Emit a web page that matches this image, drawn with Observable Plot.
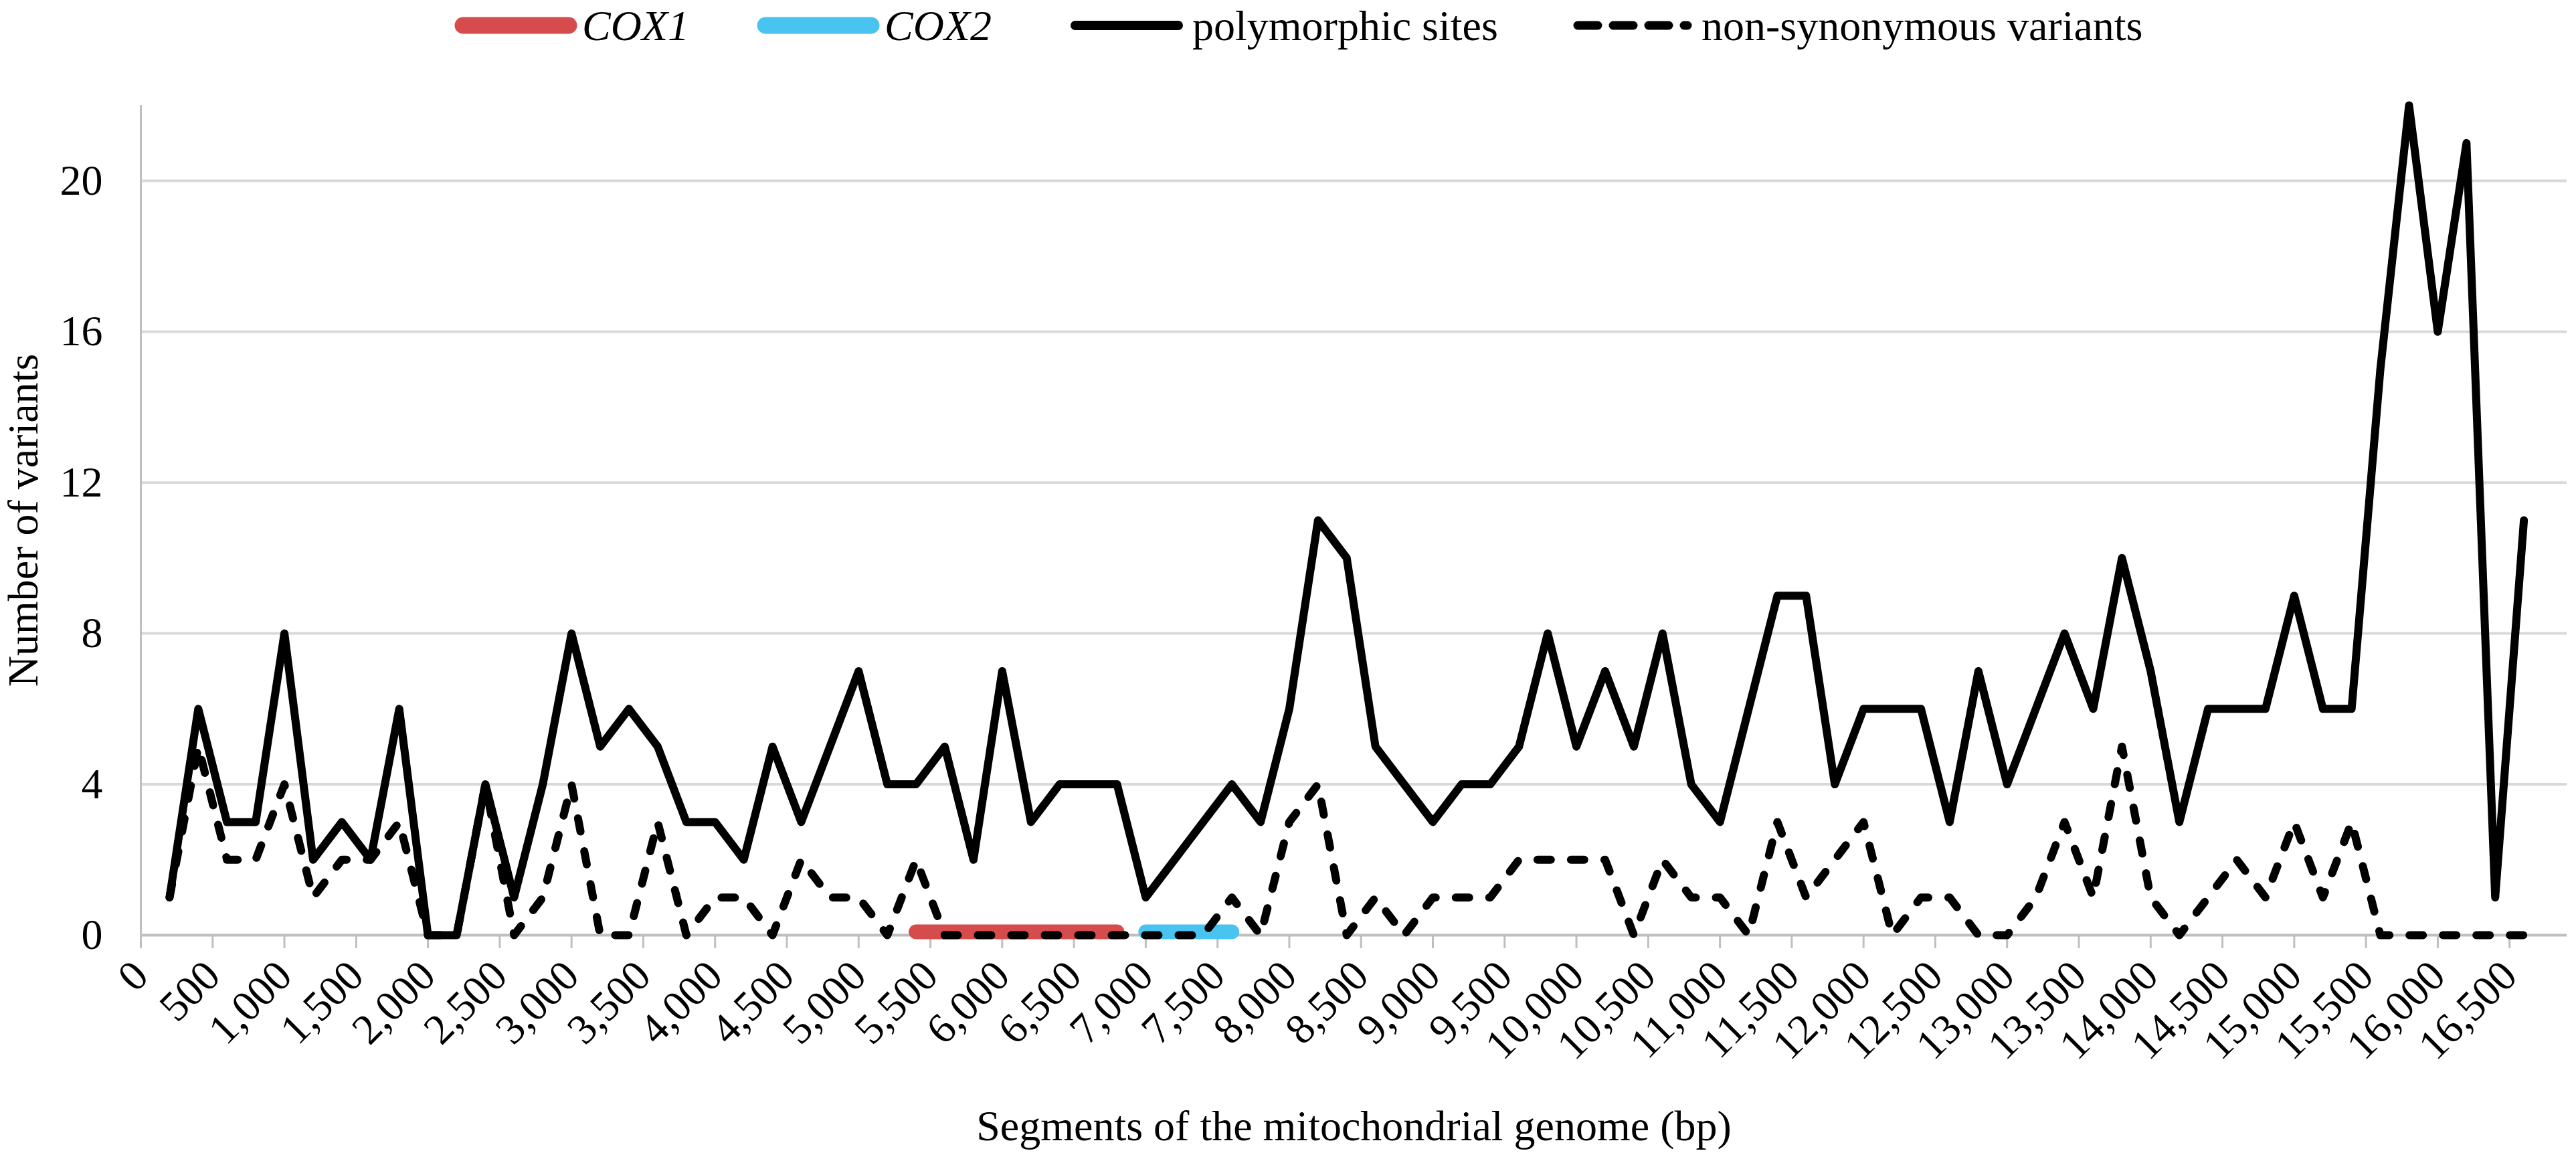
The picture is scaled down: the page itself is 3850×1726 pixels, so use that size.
<!DOCTYPE html>
<html>
<head>
<meta charset="utf-8">
<script src="https://cdn.jsdelivr.net/npm/d3@7"></script>
<script src="https://cdn.jsdelivr.net/npm/@observablehq/plot@0.6"></script>
<style>
html, body { margin: 0; padding: 0; background: #fff; }
#wrap { width: 3850px; height: 1726px; position: relative; overflow: hidden; background: #fff; }
#legend { position: absolute; left: 0; top: 0; }
#chart { position: absolute; left: 0; top: 100px; }
</style>
</head>
<body>
<div id="wrap">
  <svg id="legend" width="3850" height="100"></svg>
  <div id="chart"></div>
</div>
<script>
// ---- data ----
const segmentPositions = [200,400,600,800,1000,1200,1400,1600,1800,2000,2200,2400,2600,2800,3000,3200,3400,3600,3800,4000,4200,4400,4600,4800,5000,5200,5400,5600,5800,6000,6200,6400,6600,6800,7000,7200,7400,7600,7800,8000,8200,8400,8600,8800,9000,9200,9400,9600,9800,10000,10200,10400,10600,10800,11000,11200,11400,11600,11800,12000,12200,12400,12600,12800,13000,13200,13400,13600,13800,14000,14200,14400,14600,14800,15000,15200,15400,15600,15800,16000,16200,16400,16600];
const polymorphicSites = [1,6,3,3,8,2,3,2,6,0,0,4,1,
  4,8,5,6,5,3,3,2,5,3,5,7,4,4,
  5,2,7,3,4,4,4,1,2,3,4,3,6,11,10,5,4,3,
  4,4,5,8,5,7,5,8,4,3,6,9,9,
  4,6,6,6,3,7,4,6,8,
  6,10,7,3,6,6,6,9,6,6,15,22,16,21,1,11];
const nonSynonymousVariants = [1,5,2,2,4,1,2,2,3,0,0,4,0,
  1,4,0,0,3,0,1,1,0,2,1,1,0,2,
  0,0,0,0,0,0,0,0,0,0,1,0,3,4,0,1,0,1,
  1,1,2,2,2,2,0,2,1,1,0,3,1,
  2,3,0,1,1,0,0,1,3,
  1,5,1,0,1,2,1,3,1,3,0,0,0,0,0,0];
const cox1Span = [5400, 6800];
const cox2Span = [7000, 7600];
const xTicks = [0,500,1000,1500,2000,2500,3000,3500,4000,4500,5000,5500,6000,6500,7000,7500,8000,8500,9000,9500,10000,10500,11000,11500,12000,12500,13000,13500,14000,14500,15000,15500,16000,16500];
const yTicks = [0,4,8,12,16,20];
const seriesNames = ["COX1", "COX2", "polymorphic sites", "non-synonymous variants"];
const xTitle = "Segments of the mitochondrial genome (bp)";
const yTitle = "Number of variants";

// ---- styles ----
const FONT = "'Liberation Serif', 'Times New Roman', serif";
const RED = "#d64b4b", BLUE = "#49c3ef";
const GRID = "#d9d9d9", AXIS = "#bfbfbf";

const rows = segmentPositions.map((p, i) => ({pos: p, poly: polymorphicSites[i], nonsyn: nonSynonymousVariants[i]}));
const cox1Rows = cox1Span.map(p => ({pos: p, v: 0}));
const cox2Rows = cox2Span.map(p => ({pos: p, v: 0}));

const chart = Plot.plot({
  width: 3850,
  height: 1626,
  marginTop: 57,
  marginBottom: 329,
  marginLeft: 210,
  marginRight: 14,
  style: {fontFamily: FONT, fontSize: "64px", color: "#000", background: "#fff", overflow: "visible"},
  x: {domain: [0, 16900]},
  y: {domain: [0, 22]},
  marks: [
    Plot.ruleY(yTicks.filter(d => d > 0), {stroke: GRID, strokeWidth: 4}),
    Plot.ruleY([0], {stroke: AXIS, strokeWidth: 4}),
    Plot.ruleX([0], {y1: 0, y2: 22, stroke: AXIS, strokeWidth: 3}),
    Plot.axisX({ticks: xTicks, tickFormat: d3.format(","), tickRotate: -45, tickSize: 20, tickPadding: 30,
      stroke: AXIS, strokeWidth: 3, fill: "#000", fontSize: 64, label: null}),
    Plot.axisY({ticks: yTicks, tickSize: 0, tickPadding: 57, fill: "#000", fontSize: 64, label: null}),
    Plot.line(cox1Rows, {x: "pos", y: "v", stroke: RED, strokeWidth: 22, strokeLinecap: "round", dy: -5}),
    Plot.line(cox2Rows, {x: "pos", y: "v", stroke: BLUE, strokeWidth: 22, strokeLinecap: "round", dy: -5}),
    Plot.line(rows, {x: "pos", y: "poly", stroke: "#000", strokeWidth: 12, strokeLinejoin: "round", strokeLinecap: "round"}),
    Plot.line(rows, {x: "pos", y: "nonsyn", stroke: "#000", strokeWidth: 12, strokeDasharray: "20,30", strokeLinejoin: "round", strokeLinecap: "round"}),
    Plot.text([xTitle], {frameAnchor: "bottom", dy: 306, lineAnchor: "bottom", fontSize: 64, fill: "#000"}),
    Plot.text([yTitle], {frameAnchor: "left", dx: -175, rotate: -90, textAnchor: "middle", lineAnchor: "middle", fontSize: 64, fill: "#000"})
  ]
});
document.getElementById("chart").appendChild(chart);

// ---- legend ----
const legendLayout = [
  {x0: 692, x1: 850, tx: 870, stroke: RED, width: 25, dash: null, italic: true},
  {x0: 1144, x1: 1302, tx: 1322, stroke: BLUE, width: 25, dash: null, italic: true},
  {x0: 1607, x1: 1761, tx: 1782, stroke: "#000", width: 14, dash: null, italic: false},
  {x0: 2358, x1: 2522, tx: 2543, stroke: "#000", width: 13, dash: "30,23", italic: false}
];
const lg = d3.select("#legend");
seriesNames.forEach((name, i) => {
  const L = legendLayout[i];
  lg.append("line").attr("x1", L.x0).attr("x2", L.x1).attr("y1", 38).attr("y2", 38)
    .attr("stroke", L.stroke).attr("stroke-width", L.width).attr("stroke-linecap", "round")
    .attr("stroke-dasharray", L.dash);
  lg.append("text").attr("x", L.tx).attr("y", 60).attr("font-family", FONT).attr("font-size", 64)
    .attr("font-style", L.italic ? "italic" : "normal").attr("fill", "#000").text(name);
});
</script>
</body>
</html>
